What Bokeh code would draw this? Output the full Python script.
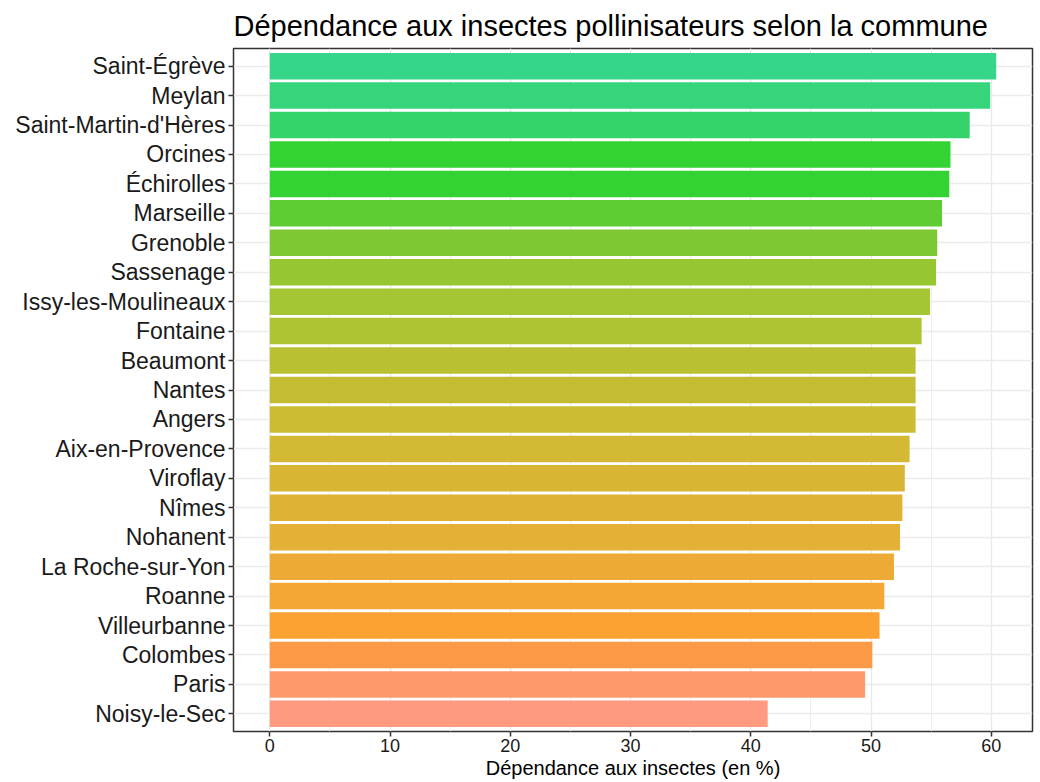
from bokeh.plotting import figure
from bokeh.models import FactorRange, Range1d, SingleIntervalTicker, ColumnDataSource, Title
from bokeh.embed import file_html
from bokeh.resources import INLINE

cities = ["Saint-Égrève", "Meylan", "Saint-Martin-d'Hères", "Orcines", "Échirolles",
          "Marseille", "Grenoble", "Sassenage", "Issy-les-Moulineaux", "Fontaine",
          "Beaumont", "Nantes", "Angers", "Aix-en-Provence", "Viroflay", "Nîmes",
          "Nohanent", "La Roche-sur-Yon", "Roanne", "Villeurbanne", "Colombes",
          "Paris", "Noisy-le-Sec"]
values = [60.4, 59.9, 58.2, 56.6, 56.5, 55.9, 55.5, 55.4, 54.9, 54.2,
          53.7, 53.7, 53.7, 53.2, 52.8, 52.6, 52.4, 51.9, 51.1, 50.7,
          50.1, 49.5, 41.4]
colors = ["#36D68A", "#36D57B", "#34D46B", "#33D333", "#33D333",
          "#5ECC33", "#7EC933", "#97C633", "#A5C633", "#AFC433",
          "#B9C133", "#C4BD33", "#CCBC33", "#D3B934", "#D8B634", "#DEB335",
          "#E4B036", "#EDAB35", "#F5A735", "#FCA233", "#FC9A47",
          "#FD9A6C", "#FE9A80"]

title = "Dépendance aux insectes pollinisateurs selon la commune"
xlabel = "Dépendance aux insectes (en %)"

src = ColumnDataSource(dict(city=cities, value=values, color=colors))

FONT = "Liberation Sans"

p = figure(
    width=1040, height=782,
    y_range=FactorRange(factors=list(reversed(cities)), range_padding=0.1,
                        range_padding_units="absolute"),
    x_range=Range1d(-3.02, 63.42),
    output_backend="svg", toolbar_location=None, title=title,
    min_border_left=233, min_border_right=8, min_border_top=48, min_border_bottom=51,
)

p.hbar(y="city", right="value", left=0, height=0.9, fill_color="color",
       fill_alpha=1.0, line_color=None, source=src)

# x-axis title as a compact panel below the axis
xt = Title(text=xlabel, align="center", text_font=FONT, text_font_size="20px",
           text_font_style="normal", text_color="#000000", standoff=0, offset=-6)
p.add_layout(xt, "below")

p.title.text_font = FONT
p.title.text_font_size = "29px"
p.title.text_font_style = "normal"
p.title.text_color = "#000000"
p.title.align = "left"
p.title.standoff = 13

p.outline_line_color = "#333333"
p.outline_line_width = 1.5
p.background_fill_color = "white"
p.border_fill_color = "white"

p.xaxis.ticker = SingleIntervalTicker(interval=10, num_minor_ticks=2)

for ax in (p.xaxis, p.yaxis):
    ax.axis_line_color = None
    ax.major_tick_line_color = "#333333"
    ax.major_tick_line_width = 1.5
    ax.major_tick_out = 5
    ax.major_tick_in = 0
    ax.minor_tick_line_color = None
    ax.major_label_text_font = FONT
    ax.major_label_text_color = "#1a1a1a"

p.xaxis.major_label_text_font_size = "18px"
p.xaxis.major_label_standoff = 2
p.yaxis.major_label_text_font_size = "23px"
p.yaxis.major_label_standoff = 3

p.xgrid.grid_line_color = "#E8E8E8"
p.xgrid.grid_line_width = 1.3
p.xgrid.minor_grid_line_color = "#EEEEEE"
p.xgrid.minor_grid_line_width = 1.0
p.ygrid.grid_line_color = "#EBEBEB"
p.ygrid.grid_line_width = 1.3

open("out.html", "w").write(file_html(p, INLINE))
